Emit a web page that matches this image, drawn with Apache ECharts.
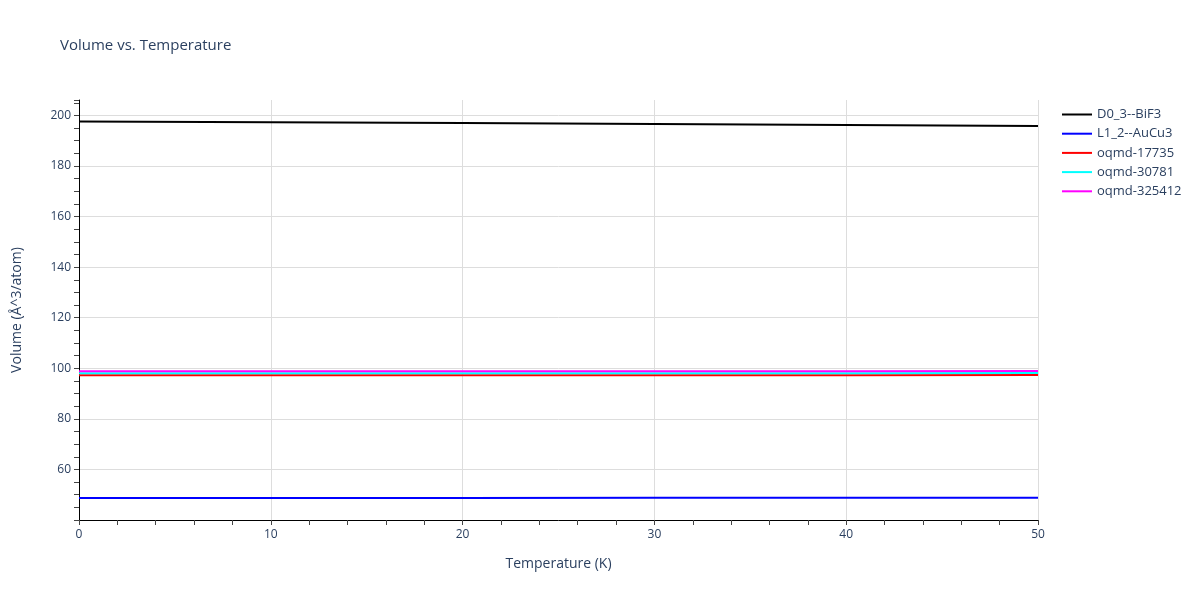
<!DOCTYPE html>
<html>
<head>
<meta charset="utf-8">
<script src="https://cdn.jsdelivr.net/npm/echarts@6/dist/echarts.min.js"></script>
<style>
  html, body { margin: 0; padding: 0; background: #fff; }
  #main { width: 1200px; height: 600px; }
</style>
</head>
<body>
<div id="main"></div>
<script>
// temperature points (K)
var temps = [0, 10, 20, 30, 40, 50];
// volumes per atom
var d03BiF3 = [197.6, 197.3, 197.0, 196.6, 196.2, 195.8];
var l12AuCu3 = [48.7, 48.7, 48.7, 48.75, 48.8, 48.8];
var oqmd17735 = [97.2, 97.2, 97.2, 97.25, 97.25, 97.3];
var oqmd30781 = [98.0, 98.0, 98.0, 98.05, 98.05, 98.1];
var oqmd325412 = [98.8, 98.8, 98.8, 98.85, 98.85, 98.9];

var seriesNames = ['D0_3--BiF3', 'L1_2--AuCu3', 'oqmd-17735', 'oqmd-30781', 'oqmd-325412'];
var seriesData = [d03BiF3, l12AuCu3, oqmd17735, oqmd30781, oqmd325412];
var seriesColors = ['#000000', '#0000ff', '#ff0000', '#00ffff', '#ff00ff'];

function pairs(ys) {
  return temps.map(function (t, i) { return [t, ys[i]]; });
}

var txt = '#2a3f5f';
var font = '"Open Sans", "DejaVu Sans", sans-serif';

var chart = echarts.init(document.getElementById('main'));
var option = {
  animation: false,
  textStyle: { fontFamily: font },
  title: {
    text: 'Volume vs. Temperature',
    left: 60,
    top: 38,
    padding: 0,
    textStyle: { color: txt, fontSize: 15, fontWeight: 'normal', fontFamily: font }
  },
  legend: {
    orient: 'vertical',
    left: 1057,
    top: 103,
    itemGap: 6.2,
    itemWidth: 30,
    itemHeight: 14,
    icon: 'path://M0,6 L30,6 L30,8 L0,8 Z',
    textStyle: { color: txt, fontSize: 13, fontFamily: font },
    data: seriesNames
  },
  grid: { left: 79, right: 162, top: 100, bottom: 80, containLabel: false },
  xAxis: {
    type: 'value',
    min: 0,
    max: 50,
    interval: 10,
    name: 'Temperature (K)',
    nameLocation: 'middle',
    nameGap: 37,
    nameTextStyle: { color: txt, fontSize: 14 },
    axisLine: { show: true, onZero: false, lineStyle: { color: '#000', width: 1 } },
    axisTick: { show: true, length: 5, lineStyle: { color: '#444' } },
    minorTick: { show: true, splitNumber: 5, length: 5, lineStyle: { color: '#444' } },
    axisLabel: { color: txt, fontSize: 12, margin: 9 },
    splitLine: { show: true, lineStyle: { color: '#dddddd', width: 1 } }
  },
  yAxis: {
    type: 'value',
    min: 40,
    max: 206.1,
    interval: 20,
    name: 'Volume (Å^3/atom)',
    nameLocation: 'middle',
    nameGap: 55,
    nameTextStyle: { color: txt, fontSize: 14 },
    axisLine: { show: true, onZero: false, lineStyle: { color: '#000', width: 1 } },
    axisTick: { show: true, length: 5, lineStyle: { color: '#444' } },
    minorTick: { show: true, splitNumber: 4, length: 5, lineStyle: { color: '#444' } },
    axisLabel: { color: txt, fontSize: 12, margin: 8, showMinLabel: false, showMaxLabel: false },
    splitLine: { show: true, showMaxLine: false, lineStyle: { color: '#dddddd', width: 1 } }
  },
  series: seriesNames.map(function (n, i) {
    return {
      name: n,
      type: 'line',
      data: pairs(seriesData[i]),
      showSymbol: false,
      symbol: 'none',
      lineStyle: { color: seriesColors[i], width: 2 },
      itemStyle: { color: seriesColors[i] }
    };
  })
};
chart.setOption(option);
</script>
</body>
</html>
